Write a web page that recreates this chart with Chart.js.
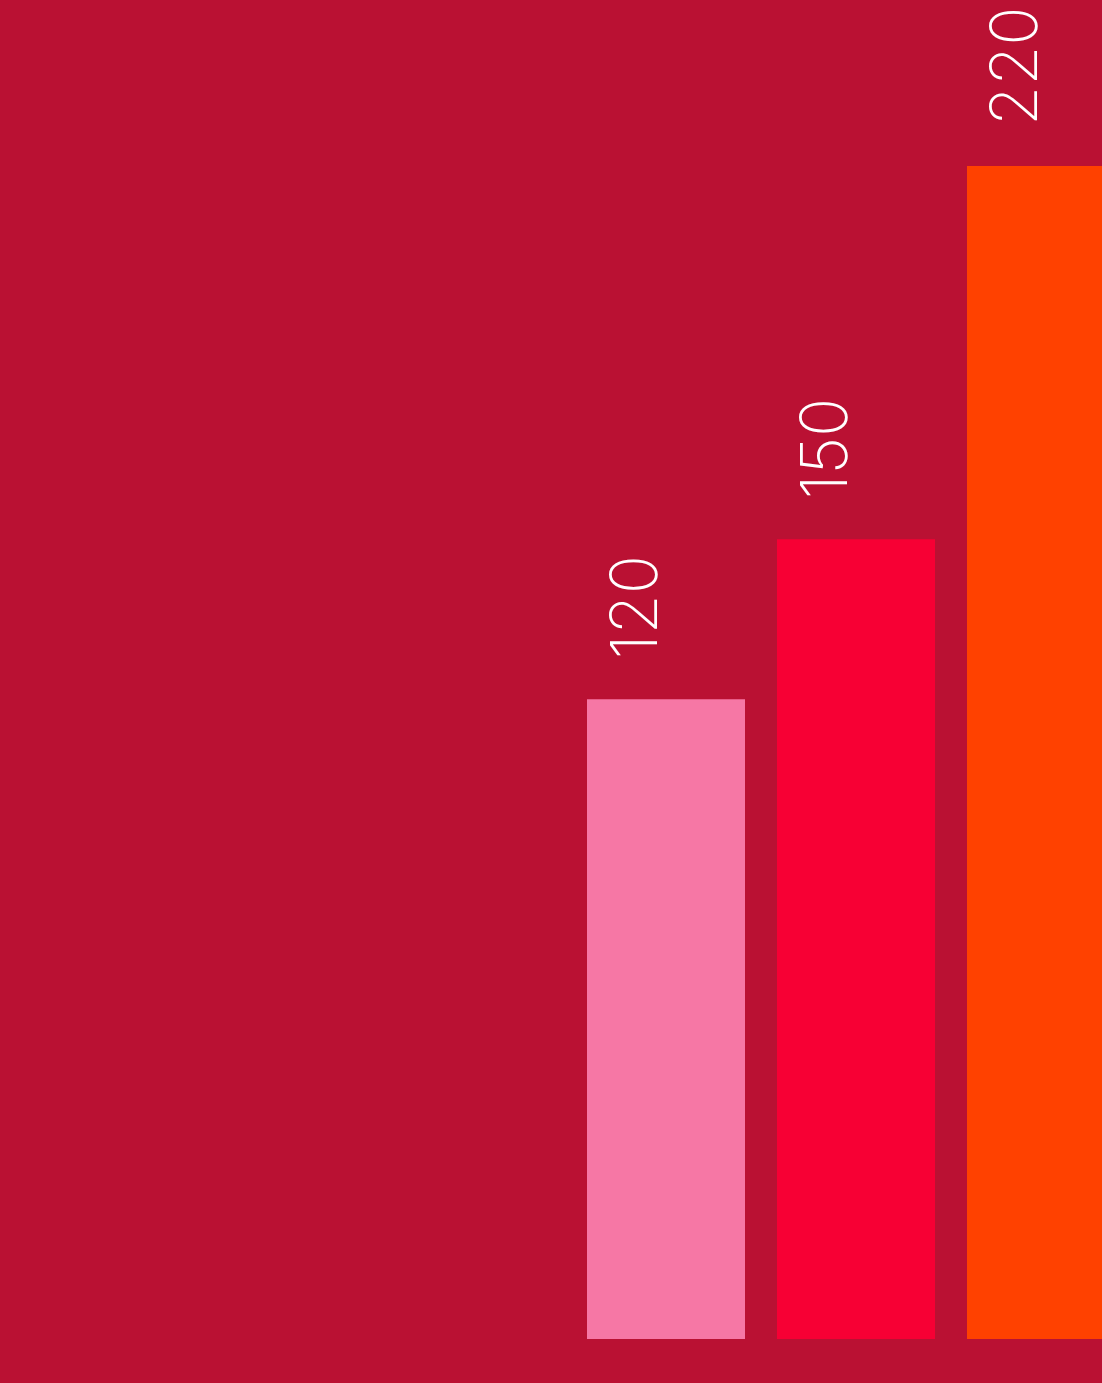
<!DOCTYPE html>
<html>
<head>
<meta charset="utf-8">
<script src="https://cdn.jsdelivr.net/npm/chart.js@4/dist/chart.umd.min.js"></script>
<style>
    html, body {
        margin: 0;
        padding: 0;
        overflow: hidden;
        background: #BA1133;
    }
    #chartBox {
        width: 1141px;
        height: 1383px;
    }
</style>
</head>
<body>
<div id="chartBox">
    <canvas id="barChart" width="1141" height="1383"></canvas>
</div>
<script>
// Chart data
const categories = ['A', 'B', 'C'];
const values = [120, 150, 220];
const barColors = ['#F677A5', '#F70034', '#FF4100'];
const yMax = 250;

// Rotated value labels above each bar
const valueLabels = {
    id: 'valueLabels',
    afterDatasetsDraw(chart) {
        const ctx = chart.ctx;
        const meta = chart.getDatasetMeta(0);
        ctx.save();
        ctx.fillStyle = '#ffffff';
        ctx.font = '200 65px Inter, Lato, sans-serif';
        ctx.textAlign = 'left';
        ctx.textBaseline = 'alphabetic';
        meta.data.forEach(function(bar, i) {
            ctx.save();
            ctx.translate(bar.x - 9, bar.y - 40);
            ctx.rotate(-Math.PI / 2);
            ctx.fillText(String(values[i]), 0, 0);
            ctx.restore();
        });
        ctx.restore();
    }
};

function createBarChart() {
    const ctx = document.getElementById('barChart');
    if (!ctx) return;

    new Chart(ctx, {
        type: 'bar',
        data: {
            labels: categories,
            datasets: [{
                data: values,
                backgroundColor: barColors,
                borderWidth: 0,
                barPercentage: 158 / 190,
                categoryPercentage: 1
            }]
        },
        options: {
            responsive: false,
            animation: false,
            layout: {
                padding: { left: 571, right: 0, top: 6, bottom: 44 }
            },
            plugins: {
                legend: { display: false },
                tooltip: { enabled: false }
            },
            scales: {
                x: { display: false },
                y: { display: false, min: 0, max: yMax }
            }
        },
        plugins: [valueLabels]
    });
}

document.addEventListener('DOMContentLoaded', createBarChart);
</script>
</body>
</html>
